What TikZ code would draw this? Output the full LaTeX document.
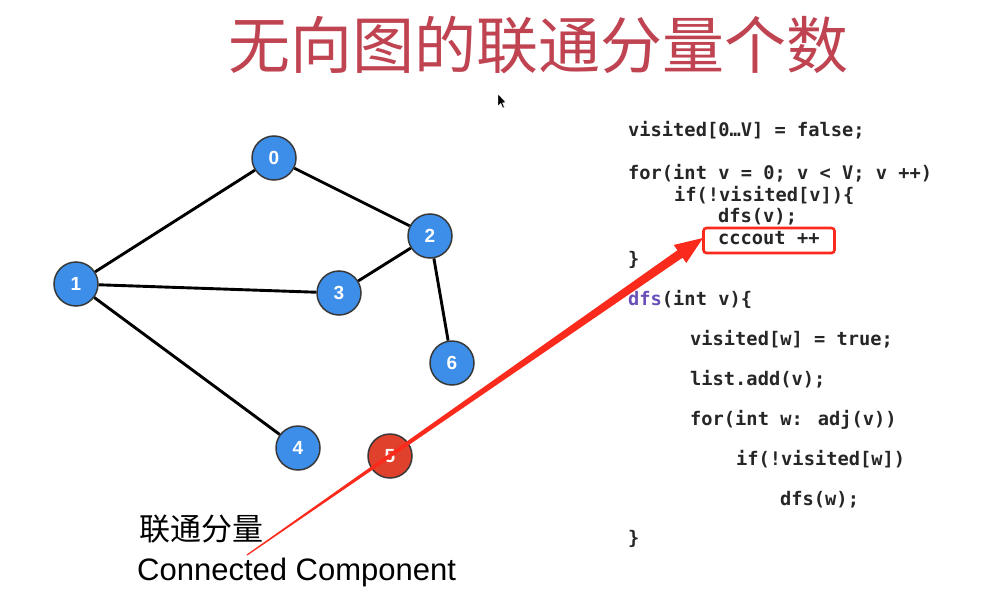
\documentclass[tikz,border=0pt]{standalone}
\usepackage{fontspec}
\setmainfont{Liberation Sans}
\newfontfamily\cjk{Noto Sans CJK SC}
\newfontfamily\codefont{DejaVu Sans Mono}
\usetikzlibrary{calc}
\definecolor{nodeblue}{HTML}{3D8EE8}
\definecolor{nodered}{HTML}{E0412C}
\definecolor{nodeedge}{HTML}{383838}
\definecolor{titlered}{HTML}{BF4350}
\definecolor{arrred}{HTML}{FA2A1C}
\definecolor{codegray}{HTML}{262626}
\definecolor{codepurple}{HTML}{6A4FB8}
\tikzset{
  vtx/.style={circle,minimum size=44pt,inner sep=0pt,draw=nodeedge,line width=1.5pt,fill=nodeblue,text=white,font=\fontsize{19}{19}\selectfont\bfseries},
  vtxred/.style={vtx,fill=nodered},
  gedge/.style={line width=2.9pt,black},
  codeline/.style={anchor=base west,inner sep=0pt,text=codegray,font=\codefont\bfseries\fontsize{18.7}{18.7}\selectfont},
}
\begin{document}
\begin{tikzpicture}[x=1pt,y=-1pt]
\useasboundingbox[fill=white] (0,0) rectangle (995,594);
% title
\node[inner sep=0pt,text=titlered,font=\cjk\fontsize{62}{62}\selectfont] (title) at (538,45) {无向图的联通分量个数};
% cursor
\fill[black,draw=white,line width=0.4pt] (498,94) -- (498,106) -- (500.8,103.4) -- (502.8,108) -- (504.4,107.3) -- (502.5,102.8) -- (506,102.6) -- cycle;
% graph nodes
\node[vtx] (n0) at (274,158) {0};
\node[vtx] (n1) at (76,284) {1};
\node[vtx] (n2) at (430,236) {2};
\node[vtx] (n3) at (339,293) {3};
\node[vtx] (n6) at (452,363) {6};
\node[vtx] (n4) at (298,448) {4};
\node[vtxred] (n5) at (390,456) {5};
% edges
\draw[gedge] (n0) -- (n1);
\draw[gedge] (n0) -- (n2);
\draw[gedge] (n1) -- (n3);
\draw[gedge] (n2) -- (n3);
\draw[gedge] (n2) -- (n6);
\draw[gedge] (n1) -- (n4);
% code
\node[codeline] (c1) at (628,136) {visited[0…V] = false;};
\node[codeline] (c2) at (628,179) {for(int v = 0; v < V; v ++)};
\node[codeline] (c3) at (674,201) {if(!visited[v])\{};
\node[codeline] (c4) at (718,222) {dfs(v);};
\node[codeline] (c5) at (718,244) {cccout ++};
\node[codeline] (c6) at (628,265) {\}};
\node[codeline] (c7) at (628,305) {\textcolor{codepurple}{dfs}(int v)\{};
\node[codeline] (c8) at (690,345) {visited[w] = true;};
\node[codeline] (c9) at (690,385) {list.add(v);};
\node[codeline] (c10) at (690,425) {for(int w: adj(v))};
\node[codeline] (c11) at (736,465) {if(!visited[w])};
\node[codeline] (c12) at (780,505) {dfs(w);};
\node[codeline] (c13) at (628,544) {\}};
% red box
\node[draw=arrred,line width=2.6pt,rounded corners=3pt,minimum width=131pt,minimum height=25pt,inner sep=0pt] (box) at (769,240.5) {};
% labels bottom-left
\node[anchor=west,inner sep=0pt,font=\cjk\fontsize{31}{31}\selectfont] (lblcn) at (139,529) {联通分量};
\node[anchor=base west,inner sep=0pt,font=\fontsize{31}{31}\selectfont] (lblen) at (137,580) {Connected Component};
% tapered red arrow
\coordinate (aS) at (247,555);
\coordinate (aT) at (703,238);
\coordinate (hb) at ($(aT)!28pt!(aS)$);
\fill[arrred] ($(aS)!0.6pt!90:(aT)$) -- ($(hb)!4.5pt!90:(aT)$) -- ($(hb)!11pt!90:(aT)$) -- (aT)
  -- ($(hb)!11pt!-90:(aT)$) -- ($(hb)!4.5pt!-90:(aT)$) -- ($(aS)!0.6pt!-90:(aT)$) -- cycle;
\end{tikzpicture}
\end{document}
